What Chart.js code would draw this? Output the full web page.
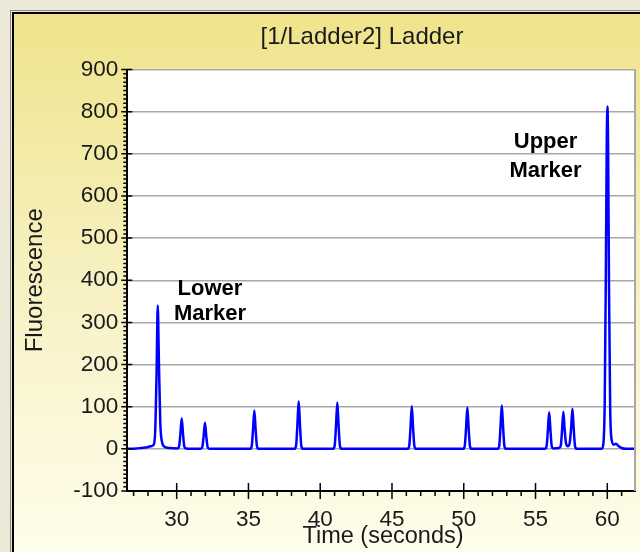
<!DOCTYPE html>
<html>
<head>
<meta charset="utf-8">
<script src="https://cdn.jsdelivr.net/npm/chart.js@4/dist/chart.umd.min.js"></script>
<style>
  html, body { margin: 0; padding: 0; background: #ece9d8; }
  #wrap { width: 640px; height: 552px; }
</style>
</head>
<body>
<div id="wrap"><canvas id="ladderChart" width="640" height="552"></canvas></div>
<script>
// electropherogram: time (s) and fluorescence
const times = [
  26.56, 27.2, 27.8, 28.2, 28.4, 28.5, 28.6, 28.68, 28.76, 28.86, 28.98, 29.15, 29.5,
  30.05, 30.17, 30.26, 30.35, 30.44, 30.53, 30.65,
  31.67, 31.79, 31.88, 31.97, 32.06, 32.15, 32.27,
  35.11, 35.23, 35.32, 35.41, 35.5, 35.59, 35.71,
  38.2, 38.32, 38.41, 38.5, 38.59, 38.68, 38.8,
  40.89, 41.01, 41.1, 41.19, 41.28, 41.37, 41.49,
  46.08, 46.2, 46.29, 46.38, 46.47, 46.56, 46.68,
  49.95, 50.07, 50.16, 50.25, 50.34, 50.43, 50.55,
  52.35, 52.47, 52.56, 52.65, 52.74, 52.83, 52.95,
  55.65, 55.77, 55.86, 55.95, 56.04, 56.13, 56.25,
  56.64, 56.76, 56.85, 56.94, 57.03, 57.12, 57.26, 57.39, 57.48, 57.57, 57.66, 57.75, 57.87,
  59.6, 59.72, 59.82, 59.9, 59.96, 60.01, 60.06, 60.12, 60.2, 60.3, 60.45, 60.6, 60.8, 61.0, 61.3, 61.93
];
const fluorescence = [
  0, 1, 3, 6, 10, 40, 180, 340, 210, 60, 16, 5, 2,
  1, 6, 36, 72, 36, 6, 1,
  0, 5, 31, 62, 31, 5, 0,
  0, 7, 46, 91, 46, 7, 0,
  0, 8, 57, 113, 57, 8, 0,
  0, 8, 55, 110, 55, 8, 0,
  0, 7, 50, 101, 50, 7, 0,
  0, 7, 49, 98, 49, 7, 0,
  0, 7, 52, 103, 52, 7, 0,
  0, 6, 44, 87, 44, 6, 1,
  2, 8, 45, 88, 46, 14, 6, 16, 50, 95, 48, 7, 0,
  0, 10, 110, 420, 720, 812, 700, 380, 100, 22, 10, 12, 6, 2, 0, 0
];

const xTicks = [30, 35, 40, 45, 50, 55, 60];
const yTicks = [-100, 0, 100, 200, 300, 400, 500, 600, 700, 800, 900];

// marker labels (data units, text baseline)
const markerLabels = [
  { lines: ['Lower', 'Marker'], x: 32.32, y: [365, 306] },
  { lines: ['Upper', 'Marker'], x: 55.7, y: [713, 646] }
];

const chartTitle = '[1/Ladder2] Ladder';
const xTitle = 'Time (seconds)';
const yTitle = 'Fluorescence';

const FONT = '"Liberation Sans", Arial, sans-serif';

// fond jaune, cadre, zone blanche
const framePlugin = {
  id: 'frame',
  beforeDraw(chart) {
    const ctx = chart.ctx;
    const a = chart.chartArea;
    ctx.save();
    ctx.fillStyle = '#ece9d8';
    ctx.fillRect(0, 0, chart.width, chart.height);
    const g = ctx.createLinearGradient(0, 14, 0, chart.height);
    g.addColorStop(0, '#efe48b');
    g.addColorStop(0.5, '#f7f1c2');
    g.addColorStop(1, '#fffdec');
    ctx.fillStyle = g;
    ctx.fillRect(14, 14, chart.width, chart.height);
    ctx.strokeStyle = '#8a8a78';
    ctx.lineWidth = 1;
    ctx.strokeRect(10.5, 10.5, chart.width, chart.height);
    ctx.strokeStyle = '#000';
    ctx.lineWidth = 2;
    ctx.strokeRect(13, 13, chart.width, chart.height);
    ctx.fillStyle = '#fff';
    ctx.fillRect(a.left, a.top, a.right - a.left, a.bottom - a.top);
    ctx.restore();
  },
  afterDraw(chart) {
    const ctx = chart.ctx;
    const a = chart.chartArea;
    const xs = chart.scales.x;
    const ys = chart.scales.y;
    ctx.save();
    // bord droit gris
    ctx.strokeStyle = '#a8a8a8';
    ctx.lineWidth = 2;
    ctx.beginPath();
    ctx.moveTo(a.right, a.top);
    ctx.lineTo(a.right, a.bottom);
    ctx.stroke();

    // graduations
    ctx.strokeStyle = '#000';
    ctx.lineWidth = 1.5;
    ctx.beginPath();
    for (let v = ys.min; v <= ys.max; v += 10) {
      const py = ys.getPixelForValue(v);
      if (v % 100 === 0) {
        ctx.moveTo(a.left - 6, py); ctx.lineTo(a.left + 5, py);
      } else {
        ctx.moveTo(a.left - 4, py); ctx.lineTo(a.left, py);
      }
    }
    for (let v = Math.ceil(xs.min); v <= xs.max; v += 1) {
      const px = xs.getPixelForValue(v);
      if (v % 5 === 0) {
        ctx.moveTo(px, a.bottom - 8); ctx.lineTo(px, a.bottom + 8);
      } else {
        ctx.moveTo(px, a.bottom); ctx.lineTo(px, a.bottom + 5);
      }
    }
    ctx.stroke();

    // titres
    ctx.fillStyle = '#1a1a1a';
    ctx.textAlign = 'center';
    ctx.textBaseline = 'middle';
    ctx.font = '24px ' + FONT;
    ctx.fillText(chartTitle, 362, 37);
    ctx.font = '23.5px ' + FONT;
    ctx.fillText(xTitle, 383, 537);
    ctx.save();
    ctx.translate(35, (a.top + a.bottom) / 2);
    ctx.rotate(-Math.PI / 2);
    ctx.font = '24px ' + FONT;
    ctx.fillText(yTitle, 0, 0);
    ctx.restore();

    // Lower / Upper Marker
    ctx.fillStyle = '#000';
    ctx.font = 'bold 22px ' + FONT;
    ctx.textBaseline = 'alphabetic';
    markerLabels.forEach(m => {
      const px = xs.getPixelForValue(m.x);
      m.lines.forEach((t, i) => ctx.fillText(t, px, ys.getPixelForValue(m.y[i])));
    });
    ctx.restore();
  }
};

const ctx = document.getElementById('ladderChart').getContext('2d');
const myChart = new Chart(ctx, {
  type: 'line',
  data: {
    datasets: [{
      data: times.map((t, i) => ({ x: t, y: fluorescence[i] })),
      borderColor: '#0000ff',
      borderWidth: 2.5,
      pointRadius: 0,
      cubicInterpolationMode: 'monotone',
      fill: false
    }]
  },
  options: {
    responsive: false,
    animation: false,
    layout: { padding: { left: 0, top: 69.5, right: 5, bottom: 0 } },
    plugins: { legend: { display: false }, tooltip: { enabled: false } },
    scales: {
      x: {
        type: 'linear',
        min: 26.56,
        max: 61.93,
        afterFit(scale) { scale.height = 61; },
        afterBuildTicks(scale) { scale.ticks = xTicks.map(v => ({ value: v })); },
        grid: { display: false, drawTicks: false },
        border: { display: true, color: '#000', width: 2 },
        ticks: { color: '#1a1a1a', font: { family: FONT, size: 22.5 }, padding: 15, maxRotation: 0, autoSkip: false }
      },
      y: {
        min: -100,
        max: 900,
        afterFit(scale) { scale.width = 127.3; },
        afterBuildTicks(scale) { scale.ticks = yTicks.map(v => ({ value: v })); },
        grid: { color: '#a8a8a8', lineWidth: 1.5, drawTicks: false },
        border: { display: true, color: '#000', width: 2 },
        ticks: { color: '#1a1a1a', font: { family: FONT, size: 22.5 }, padding: 9, autoSkip: false }
      }
    }
  },
  plugins: [framePlugin]
});
</script>
</body>
</html>
